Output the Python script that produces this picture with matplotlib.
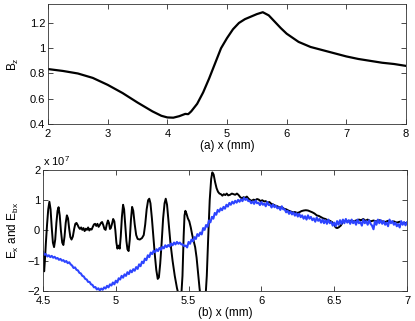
import numpy as np
import matplotlib
matplotlib.use('Agg')
import matplotlib.pyplot as plt
from matplotlib.ticker import FuncFormatter

plt.rcParams['font.family'] = ['Liberation Sans', 'DejaVu Sans']
plt.rcParams['font.size'] = 8
plt.rcParams['mathtext.fontset'] = 'custom'
plt.rcParams['mathtext.rm'] = 'Liberation Sans'

# (a) Bz profile
bz_x = [2.0, 2.25, 2.5, 2.75, 3.0, 3.25, 3.5, 3.75, 3.9, 4.0, 4.1, 4.2, 4.3, 4.35,
        4.4, 4.5, 4.6, 4.7, 4.8, 4.9, 5.0, 5.1, 5.2, 5.3, 5.4, 5.5, 5.6, 5.7, 5.8,
        5.9, 6.0, 6.2, 6.4, 6.6, 6.8, 7.0, 7.2, 7.4, 7.6, 7.8, 8.0]
bz_y = [0.835, 0.82, 0.80, 0.765, 0.71, 0.645, 0.57, 0.50, 0.465, 0.452, 0.450,
        0.462, 0.48, 0.478, 0.50, 0.56, 0.65, 0.76, 0.88, 1.0, 1.08, 1.15, 1.20,
        1.23, 1.25, 1.27, 1.285, 1.26, 1.21, 1.16, 1.115, 1.05, 1.01, 0.985, 0.96,
        0.935, 0.915, 0.90, 0.885, 0.875, 0.86]

# (b) Ex (black), in units of 1e7
ex_x = [4.500, 4.504, 4.508, 4.513, 4.520, 4.528, 4.536, 4.544, 4.552, 4.560, 4.568,
        4.576, 4.584, 4.592, 4.600, 4.607, 4.615, 4.623, 4.632, 4.640, 4.648, 4.656,
        4.664, 4.672, 4.680, 4.688, 4.696, 4.705, 4.714, 4.722, 4.730, 4.738, 4.746,
        4.754, 4.762, 4.770, 4.778, 4.786, 4.794, 4.802, 4.810, 4.818, 4.826, 4.834,
        4.842, 4.850, 4.858, 4.866, 4.874, 4.882, 4.890, 4.898, 4.906, 4.914, 4.922,
        4.930, 4.938, 4.946, 4.953, 4.960, 4.966, 4.974, 4.982, 4.990, 4.997, 5.004,
        5.011, 5.019, 5.027, 5.034, 5.042, 5.050, 5.057, 5.065, 5.073, 5.080, 5.088,
        5.096, 5.104, 5.112, 5.120, 5.130, 5.140, 5.150, 5.165, 5.180, 5.192, 5.202,
        5.212, 5.222, 5.230, 5.238, 5.248, 5.258, 5.268, 5.278, 5.288, 5.296, 5.305,
        5.315, 5.325, 5.335, 5.343, 5.352, 5.362, 5.375, 5.390, 5.405, 5.420, 5.435,
        5.448, 5.458, 5.466, 5.472, 5.478, 5.486, 5.495, 5.505, 5.515, 5.525, 5.535,
        5.545, 5.555, 5.565, 5.575, 5.585, 5.600, 5.615, 5.625, 5.635, 5.645, 5.655,
        5.663, 5.672, 5.682, 5.692, 5.702, 5.712, 5.722, 5.732, 5.742, 5.752, 5.762,
        5.772, 5.785, 5.797, 5.808, 5.820, 5.832, 5.842, 5.855, 5.867, 5.877, 5.888,
        5.900, 5.912, 5.924, 5.934, 5.946, 5.958, 5.970, 5.982, 5.994, 6.006, 6.018,
        6.030, 6.042, 6.055, 6.068, 6.080, 6.095, 6.110, 6.125, 6.140, 6.155, 6.170,
        6.185, 6.200, 6.215, 6.230, 6.245, 6.260, 6.275, 6.290, 6.305, 6.320, 6.335,
        6.350, 6.365, 6.380, 6.395, 6.410, 6.425, 6.440, 6.455, 6.470, 6.485, 6.500,
        6.510, 6.520, 6.530, 6.545, 6.560, 6.575, 6.590, 6.610, 6.630, 6.650, 6.670,
        6.685, 6.700, 6.715, 6.730, 6.750, 6.770, 6.790, 6.810, 6.830, 6.850, 6.870,
        6.890, 6.910, 6.930, 6.950, 6.970, 7.000]
ex_y = [-0.70, -1.10, -1.35, -1.00, -0.40, 0.20, 0.70, 0.95, 0.70, 0.10, -0.40,
        -0.55, -0.30, 0.25, 0.65, 0.77, 0.50, 0.00, -0.40, -0.48, -0.20, 0.25,
        0.50, 0.40, 0.05, -0.22, -0.30, -0.20, 0.05, 0.22, 0.25, 0.18, 0.10,
        0.05, 0.10, 0.02, 0.08, -0.02, 0.06, 0.02, 0.10, 0.00, 0.05, 0.03,
        0.12, 0.20, 0.22, 0.15, 0.22, 0.12, 0.18, 0.25, 0.28, 0.18, 0.05,
        0.02, 0.20, 0.33, 0.25, 0.05, 0.08, 0.22, 0.38, 0.30, 0.00, -0.40,
        -0.60, -0.50, -0.60, -0.20, 0.45, 0.85, 0.70, 0.15, -0.35, -0.62, -0.68,
        -0.30, 0.35, 0.78, 0.65, 0.20, -0.15, -0.28, -0.30, -0.25, -0.15, 0.20,
        0.70, 1.00, 1.05, 0.90, 0.40, -0.20, -0.80, -1.30, -1.60, -1.55, -1.10,
        -0.40, 0.40, 0.90, 1.05, 0.85, 0.30, -0.40, -1.00, -1.50, -1.90, -2.20,
        -2.30, -1.50, -0.20, 0.50, 0.65, 0.55, 0.40, 0.30, 0.10, -0.15, -0.35,
        -0.55, -0.90, -1.40, -1.90, -2.30, -2.40, -2.30, -1.50, -0.20, 1.00, 1.70,
        1.92, 1.85, 1.60, 1.40, 1.28, 1.22, 1.20, 1.15, 1.20, 1.17, 1.22,
        1.16, 1.18, 1.22, 1.20, 1.18, 1.22, 1.18, 1.10, 1.06, 1.10, 1.08,
        1.12, 1.05, 1.00, 0.98, 1.02, 1.00, 1.04, 1.02, 0.97, 1.00, 0.96,
        0.97, 0.92, 0.94, 0.88, 0.86, 0.82, 0.80, 0.76, 0.77, 0.72, 0.70,
        0.66, 0.63, 0.60, 0.61, 0.58, 0.60, 0.64, 0.66, 0.67, 0.66, 0.63,
        0.60, 0.56, 0.50, 0.48, 0.44, 0.40, 0.38, 0.34, 0.32, 0.28, 0.20,
        0.10, 0.08, 0.10, 0.16, 0.28, 0.32, 0.30, 0.32, 0.30, 0.33, 0.36,
        0.34, 0.38, 0.32, 0.36, 0.30, 0.33, 0.30, 0.34, 0.30, 0.28, 0.32,
        0.28, 0.30, 0.26, 0.29, 0.24, 0.25]

# (b) Ebx (blue), sampled every 0.01 mm from 4.50 to 7.00, in units of 1e7
ebx_x = np.linspace(4.5, 7.0, 251)
ebx_y = [-0.72, -0.80, -0.78, -0.86, -0.82, -0.88, -0.84, -0.90, -0.87, -0.93,
         -0.91, -0.97, -0.94, -1.00, -0.98, -1.04, -1.01, -1.08, -1.05, -1.12,
         -1.16, -1.24, -1.22, -1.30, -1.32, -1.40, -1.42, -1.50, -1.52, -1.60,
         -1.62, -1.70, -1.70, -1.78, -1.80, -1.88, -1.87, -1.95, -1.91, -1.98,
         -1.92, -1.96, -1.88, -1.92, -1.83, -1.88, -1.78, -1.82, -1.72, -1.78,
         -1.66, -1.72, -1.58, -1.62, -1.50, -1.56, -1.45, -1.50, -1.38, -1.44,
         -1.32, -1.38, -1.28, -1.33, -1.21, -1.27, -1.12, -1.18, -1.03, -1.08,
         -0.93, -0.98, -0.82, -0.88, -0.73, -0.78, -0.67, -0.72, -0.62, -0.68,
         -0.58, -0.64, -0.54, -0.59, -0.49, -0.55, -0.48, -0.53, -0.43, -0.49,
         -0.40, -0.46, -0.38, -0.44, -0.40, -0.46, -0.46, -0.52, -0.50, -0.56,
         -0.38, -0.44, -0.30, -0.36, -0.22, -0.28, -0.12, -0.18, -0.07, -0.13,
         0.08, 0.02, 0.18, 0.12, 0.33, 0.27, 0.45, 0.39, 0.58, 0.52,
         0.68, 0.62, 0.73, 0.67, 0.78, 0.72, 0.85, 0.79, 0.91, 0.85,
         0.95, 0.89, 0.98, 0.92, 1.01, 0.95, 1.03, 0.97, 1.08, 1.01,
         1.05, 0.97, 0.98, 0.90, 0.96, 0.88, 0.99, 0.90, 0.92, 0.84,
         0.94, 0.85, 0.89, 0.80, 0.94, 0.84, 0.85, 0.76, 0.86, 0.77,
         0.82, 0.73, 0.77, 0.68, 0.80, 0.70, 0.70, 0.60, 0.65, 0.55,
         0.63, 0.53, 0.60, 0.49, 0.57, 0.46, 0.55, 0.44, 0.50, 0.39,
         0.47, 0.36, 0.50, 0.39, 0.45, 0.34, 0.40, 0.29, 0.43, 0.32,
         0.38, 0.26, 0.36, 0.24, 0.34, 0.22, 0.36, 0.24, 0.28, 0.16,
         0.26, 0.14, 0.31, 0.19, 0.34, 0.22, 0.36, 0.24, 0.38, 0.26,
         0.34, 0.22, 0.36, 0.24, 0.31, 0.19, 0.36, 0.24, 0.28, 0.16,
         0.36, 0.24, 0.31, 0.19, 0.34, 0.22, 0.16, 0.04, 0.31, 0.19,
         0.36, 0.24, 0.34, 0.22, 0.31, 0.19, 0.26, 0.14, 0.36, 0.24,
         0.31, 0.19, 0.26, 0.14, 0.21, 0.10, 0.31, 0.19, 0.28, 0.17,
         0.27]

fig = plt.figure(figsize=(4.15, 3.21), dpi=100)
ax1 = fig.add_axes([0.1157, 0.6137, 0.8626, 0.3738])
ax2 = fig.add_axes([0.1036, 0.0935, 0.8771, 0.3770])

for ax in (ax1, ax2):
    ax.tick_params(direction='in', top=True, right=True, length=3.5, width=0.5)
    ax.tick_params(axis='x', pad=3.5)
    ax.tick_params(axis='y', pad=2)
    for s in ax.spines.values():
        s.set_linewidth(0.6)
        s.set_color('#333333')

ax1.plot(bz_x, bz_y, color='k', lw=1.6)
ax1.set_xlim(2, 8)
ax1.set_ylim(0.4, 1.35)
ax1.set_xticks([2, 3, 4, 5, 6, 7, 8])
ax1.set_yticks([0.4, 0.6, 0.8, 1.0, 1.2])
ax1.yaxis.set_major_formatter(FuncFormatter(lambda v, p: '%g' % v))
ax1.set_xlabel('(a) x (mm)', labelpad=0.5, fontsize=8.5)
ax1.set_ylabel(r'$\mathregular{B_z}$', labelpad=6, fontsize=8.5)

ax2.plot(ex_x, ex_y, color='k', lw=1.4)
ax2.plot(ebx_x, ebx_y, color='#2d44ff', lw=1.5)
ax2.set_xlim(4.5, 7)
ax2.set_ylim(-2, 2)
ax2.set_xticks([4.5, 5, 5.5, 6, 6.5, 7])
ax2.set_yticks([-2, -1, 0, 1, 2])
ax2.xaxis.set_major_formatter(FuncFormatter(lambda v, p: '%g' % v))
ax2.set_xlabel('(b) x (mm)', labelpad=0.5, fontsize=8.5)
ax2.set_ylabel(r'$\mathregular{E_x}$ and $\mathregular{E_{bx}}$', labelpad=5, fontsize=8.5)
ax2.text(0.0, 1.015, r'x 10$^{\mathregular{7}}$', transform=ax2.transAxes,
         ha='left', va='bottom', fontsize=8)

fig.savefig('out.png', dpi=100)
